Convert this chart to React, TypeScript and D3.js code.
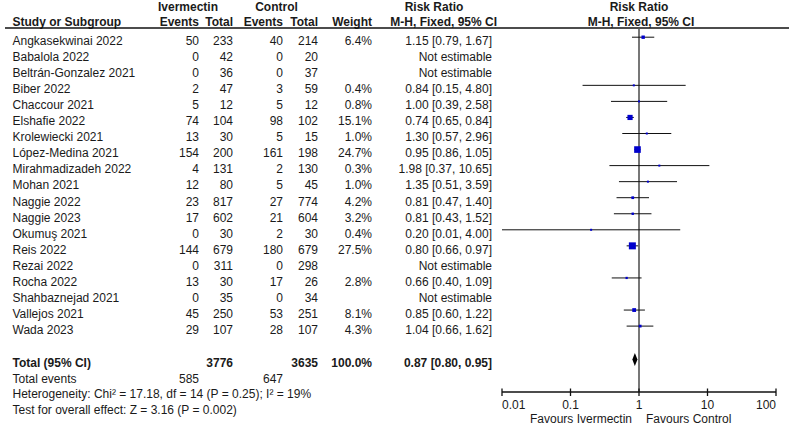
import React from "react";
import * as d3 from "d3";

const studies = [
  "Angkasekwinai 2022", "Babalola 2022", "Beltrán-Gonzalez 2021", "Biber 2022", "Chaccour 2021",
  "Elshafie 2022", "Krolewiecki 2021", "López-Medina 2021", "Mirahmadizadeh 2022", "Mohan 2021",
  "Naggie 2022", "Naggie 2023", "Okumuş 2021", "Reis 2022", "Rezai 2022", "Rocha 2022",
  "Shahbaznejad 2021", "Vallejos 2021", "Wada 2023",
];
const ivEvents = [50, 0, 0, 2, 5, 74, 13, 154, 4, 12, 23, 17, 0, 144, 0, 13, 0, 45, 29];
const ivTotal = [233, 42, 36, 47, 12, 104, 30, 200, 131, 80, 817, 602, 30, 679, 311, 30, 35, 250, 107];
const ctEvents = [40, 0, 0, 3, 5, 98, 5, 161, 2, 5, 27, 21, 2, 180, 0, 17, 0, 53, 28];
const ctTotal = [214, 20, 37, 59, 12, 102, 15, 198, 130, 45, 774, 604, 30, 679, 298, 26, 34, 251, 107];
const weights: (number | null)[] = [6.4, null, null, 0.4, 0.8, 15.1, 1.0, 24.7, 0.3, 1.0, 4.2, 3.2, 0.4, 27.5, null, 2.8, null, 8.1, 4.3];
const rr: (number | null)[] = [1.15, null, null, 0.84, 1.0, 0.74, 1.3, 0.95, 1.98, 1.35, 0.81, 0.81, 0.2, 0.8, null, 0.66, null, 0.85, 1.04];
const lo: (number | null)[] = [0.79, null, null, 0.15, 0.39, 0.65, 0.57, 0.86, 0.37, 0.51, 0.47, 0.43, 0.01, 0.66, null, 0.4, null, 0.6, 0.66];
const hi: (number | null)[] = [1.67, null, null, 4.8, 2.58, 0.84, 2.96, 1.05, 10.65, 3.59, 1.4, 1.52, 4.0, 0.97, null, 1.09, null, 1.22, 1.62];

const total = { ivTotal: 3776, ctTotal: 3635, weight: "100.0%", rr: 0.87, lo: 0.8, hi: 0.95 };
const totalEvents = { iv: 585, ct: 647 };
const tickValues = [0.01, 0.1, 1, 10, 100];
const tickLabels = ["0.01", "0.1", "1", "10", "100"];
const heterogeneityText = "Heterogeneity: Chi² = 17.18, df = 14 (P = 0.25); I² = 19%";
const overallText = "Test for overall effect: Z = 3.16 (P = 0.002)";

const W = 789;
const H = 425;
const FONT = "'Liberation Sans', Arial, sans-serif";
const TXT = "#1a1a1a";

const fmt2 = (v: number) => v.toFixed(2);
const ciText = (i: number) =>
  rr[i] == null ? "Not estimable" : `${fmt2(rr[i]!)} [${fmt2(lo[i]!)}, ${fmt2(hi[i]!)}]`;

export default function App() {
  const x = d3.scaleLog().domain([0.01, 100]).range([502, 776]);
  const y = d3.scalePoint<string>().domain(studies).range([40.7, 329.6]);
  const sq = d3.scaleSqrt().domain([0, 27.5]).range([0, 7]);

  const colEv1 = 199, colTot1 = 233, colEv2 = 283, colTot2 = 318, colW = 372, colCI = 492;
  const base = 4.3; // text baseline offset from visual center
  const mk = -3.5; // marker offset from text center
  const axisY = 392;
  const totalY = 363;

  const cell = (xx: number, yy: number, t: string | number, anchor = "end", bold = false) => (
    <text x={xx} y={yy + base} textAnchor={anchor} fontWeight={bold ? "bold" : "normal"}>{t}</text>
  );

  return (
    <svg width={W} height={H} style={{ position: "absolute", left: 0, top: 0, background: "#fff" }}
      fontFamily={FONT} fontSize={12} fill={TXT}>
      {/* headers */}
      <g fontWeight="bold">
        <text x={188} y={6.7 + base} textAnchor="middle">Ivermectin</text>
        <text x={276.5} y={6.7 + base} textAnchor="middle">Control</text>
        <text x={434} y={6.7 + base} textAnchor="middle">Risk Ratio</text>
        <text x={639} y={6.7 + base} textAnchor="middle">Risk Ratio</text>
        <text x={12.5} y={21.7 + base}>Study or Subgroup</text>
        <text x={colEv1} y={21.7 + base} textAnchor="end">Events</text>
        <text x={colTot1} y={21.7 + base} textAnchor="end">Total</text>
        <text x={colEv2} y={21.7 + base} textAnchor="end">Events</text>
        <text x={colTot2} y={21.7 + base} textAnchor="end">Total</text>
        <text x={colW} y={21.7 + base} textAnchor="end">Weight</text>
        <text x={497} y={21.7 + base} textAnchor="end">M-H, Fixed, 95% CI</text>
        <text x={641} y={21.7 + base} textAnchor="middle">M-H, Fixed, 95% CI</text>
      </g>
      <line x1={5} x2={W} y1={28} y2={28} stroke="#111" strokeWidth={1.3} />

      {/* vertical line of no effect */}
      <line x1={x(1)} x2={x(1)} y1={28} y2={axisY} stroke="#555" strokeWidth={1.6} />

      {/* study rows */}
      {studies.map((s, i) => {
        const yy = y(s)!;
        return (
          <g key={s}>
            {cell(12.5, yy, s, "start")}
            {cell(colEv1, yy, ivEvents[i])}
            {cell(colTot1, yy, ivTotal[i])}
            {cell(colEv2, yy, ctEvents[i])}
            {cell(colTot2, yy, ctTotal[i])}
            {weights[i] != null && cell(colW, yy, `${weights[i]!.toFixed(1)}%`)}
            {cell(colCI, yy, ciText(i))}
            {rr[i] != null && (
              <g>
                <line x1={x(lo[i]!)} x2={x(hi[i]!)} y1={yy + mk} y2={yy + mk} stroke="#111" strokeWidth={1} />
                {(() => {
                  const s2 = Math.max(2, sq(weights[i]!));
                  return <rect x={x(rr[i]!) - s2 / 2} y={yy + mk - s2 / 2} width={s2} height={s2} fill="#0000cc" />;
                })()}
              </g>
            )}
          </g>
        );
      })}

      {/* total row */}
      <g fontWeight="bold">
        {cell(12.5, totalY, "Total (95% CI)", "start", true)}
        {cell(colTot1, totalY, total.ivTotal, "end", true)}
        {cell(colTot2, totalY, total.ctTotal, "end", true)}
        {cell(colW, totalY, total.weight, "end", true)}
        {cell(colCI, totalY, `${fmt2(total.rr)} [${fmt2(total.lo)}, ${fmt2(total.hi)}]`, "end", true)}
      </g>
      <polygon
        points={[
          [x(total.lo), totalY + mk],
          [x(total.rr), totalY + mk - 6.5],
          [x(total.hi), totalY + mk],
          [x(total.rr), totalY + mk + 6.5],
        ].map((p) => p.join(",")).join(" ")}
        fill="#000"
      />
      {cell(12.5, 378.5, "Total events", "start")}
      {cell(colEv1, 378.5, totalEvents.iv)}
      {cell(colEv2, 378.5, totalEvents.ct)}
      {cell(12.5, 394, heterogeneityText, "start")}
      {cell(12.5, 409.5, overallText, "start")}

      {/* axis */}
      <line x1={x(0.01)} x2={x(100)} y1={axisY} y2={axisY} stroke="#111" strokeWidth={1.3} />
      {tickValues.map((t, i) => (
        <g key={t}>
          <line x1={x(t)} x2={x(t)} y1={axisY - 3.5} y2={axisY + 4} stroke="#111" strokeWidth={1.3} />
          <text
            x={i === 0 ? x(t) : x(t)}
            y={409}
            textAnchor={i === 0 ? "start" : i === tickValues.length - 1 ? "end" : "middle"}
          >{tickLabels[i]}</text>
        </g>
      ))}
      <text x={x(1) - 7} y={423} textAnchor="end">Favours Ivermectin</text>
      <text x={x(1) + 7} y={423} textAnchor="start">Favours Control</text>
    </svg>
  );
}
